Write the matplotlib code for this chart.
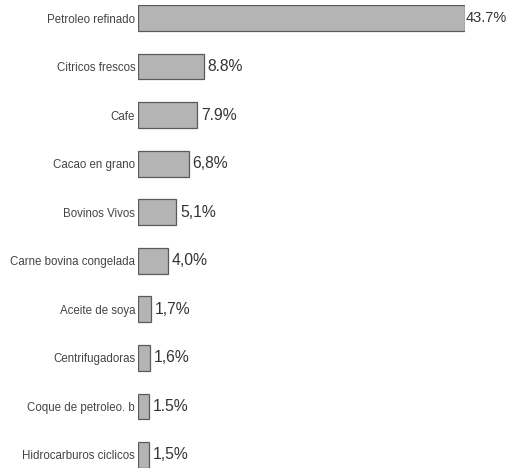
import matplotlib
matplotlib.use("Agg")
import matplotlib.pyplot as plt

# productos y participacion (%)
productos = ["Petroleo refinado", "Citricos frescos", "Cafe", "Cacao en grano",
             "Bovinos Vivos", "Carne bovina congelada", "Aceite de soya",
             "Centrifugadoras", "Coque de petroleo. b", "Hidrocarburos ciclicos"]
valores = [43.7, 8.8, 7.9, 6.8, 5.1, 4.0, 1.7, 1.6, 1.5, 1.5]
etiquetas = ["43.7%", "8.8%", "7.9%", "6,8%", "5,1%", "4,0%", "1,7%", "1,6%", "1.5%", "1,5%"]

plt.rcParams['font.family'] = ['Liberation Sans', 'DejaVu Sans']

fig = plt.figure(figsize=(5.11, 4.73), dpi=100)
ax = fig.add_axes([138/511, 5/473, 327/511, 463/473])

pos = list(range(len(productos)))
ax.barh(pos, valores, height=0.53, color="#b4b4b4", edgecolor="#5a5a5a", linewidth=0.9)

for p, v, t in zip(pos, valores, etiquetas):
    off = 0.1 if v > 40 else 0.5
    fs = 10.5 if v > 40 else 11.3
    ax.text(v + off, p, t, va="center", ha="left", fontsize=fs, color="#333333")

ax.set_yticks(pos)
ax.set_yticklabels(productos, fontsize=8.3, color="#444444")
ax.tick_params(axis="y", length=0, pad=2)
ax.set_xticks([])
ax.set_xlim(0, 43.7)
ax.set_ylim(9.27, -0.27)
for s in ax.spines.values():
    s.set_visible(False)

fig.savefig("out.png", dpi=100)
